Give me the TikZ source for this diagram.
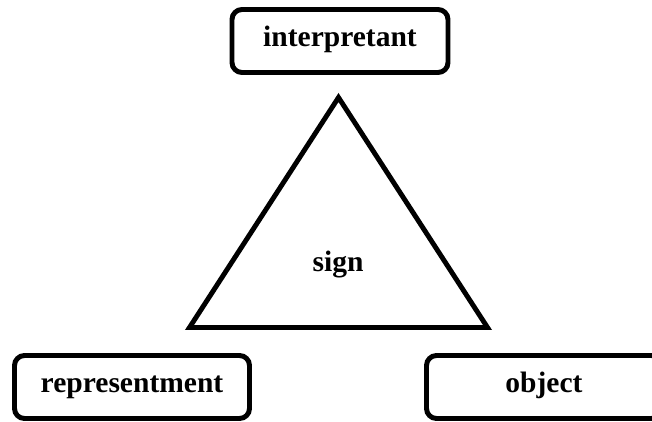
\documentclass[tikz,border=0pt]{standalone}
\usepackage{fontspec}
\setmainfont{Liberation Serif}

\begin{document}
\begin{tikzpicture}[
    box/.style={draw, line width=2.8pt, rounded corners=0.2cm, minimum height=1.26cm,
      text height=10pt, text depth=3.2pt},
    label/.style={font=\bfseries\fontsize{16.8}{20}\selectfont},
  ]
    % Clip to the picture frame
    \clip (0,0) rectangle (13.04,8.42);

    % Draw the three boxes
    \node[box, label, minimum width=4.32cm] (interpretant) at (6.8,7.6) {interpretant};
    \node[box, label, minimum width=4.7cm] (representment) at (2.64,0.68) {representment};
    \node[box, label, minimum width=4.7cm] (object) at (10.88,0.68) {object};

    % Draw the sign triangle
    \draw[line width=2.8pt] (6.77,6.47) -- (3.79,1.87) -- (9.75,1.87) -- cycle;
    \node[label] (sign) at (6.76,3.12) {sign};
\end{tikzpicture}
\end{document}
